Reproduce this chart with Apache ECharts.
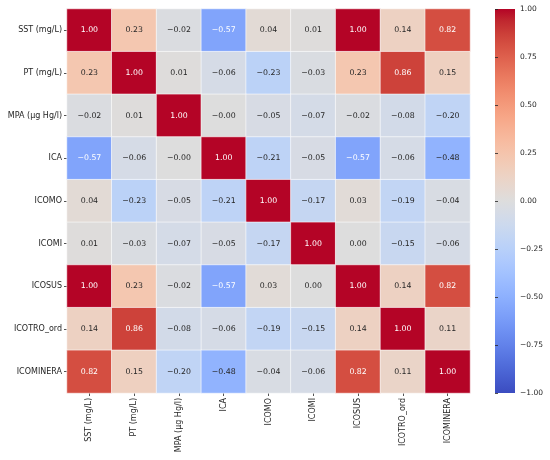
<!DOCTYPE html>
<html><head><meta charset="utf-8">
<script src="https://cdn.jsdelivr.net/npm/echarts@6/dist/echarts.min.js"></script>
<style>html,body{margin:0;padding:0;background:#fff}#c{width:550px;height:460px}</style>
</head><body><div id="c"></div>
<script>
const labels = ['SST (mg/L)','PT (mg/L)','MPA (µg Hg/l)','ICA','ICOMO','ICOMI','ICOSUS','ICOTRO_ord','ICOMINERA'];
const rowSST   = [1.00, 0.23, -0.02, -0.57, 0.04, 0.01, 1.00, 0.14, 0.82];
const rowPT    = [0.23, 1.00, 0.01, -0.06, -0.23, -0.03, 0.23, 0.86, 0.15];
const rowMPA   = [-0.02, 0.01, 1.00, -0.00, -0.05, -0.07, -0.02, -0.08, -0.20];
const rowICA   = [-0.57, -0.06, -0.00, 1.00, -0.21, -0.05, -0.57, -0.06, -0.48];
const rowICOMO = [0.04, -0.23, -0.05, -0.21, 1.00, -0.17, 0.03, -0.19, -0.04];
const rowICOMI = [0.01, -0.03, -0.07, -0.05, -0.17, 1.00, 0.00, -0.15, -0.06];
const rowICOSUS= [1.00, 0.23, -0.02, -0.57, 0.03, 0.00, 1.00, 0.14, 0.82];
const rowICOTRO= [0.14, 0.86, -0.08, -0.06, -0.19, -0.15, 0.14, 1.00, 0.11];
const rowICOMIN= [0.82, 0.15, -0.20, -0.48, -0.04, -0.06, 0.82, 0.11, 1.00];
const matrix = [rowSST,rowPT,rowMPA,rowICA,rowICOMO,rowICOMI,rowICOSUS,rowICOTRO,rowICOMIN];

const coolwarm = ['#3b4cc0','#445acc','#4d68d7','#5775e1','#6282ea','#6c8ef1','#779af7','#82a5fb','#8db0fe','#98b9ff','#a3c2ff','#aec9fd','#b8d0f9','#c2d5f4','#ccd9ee','#d5dbe6','#dddddd','#e5d8d1','#ecd3c5','#f1ccb8','#f5c4ac','#f7bba0','#f7b194','#f7a687','#f49a7b','#f18d6f','#ec7f63','#e57058','#de604d','#d55042','#cb3e38','#c0282f','#b40426'];

function fmt(v){
  const neg = v < 0 || Object.is(v, -0);
  return (neg ? '\u2212' : '') + Math.abs(v).toFixed(2);
}
const data = [];
matrix.forEach((row, r) => row.forEach((v, c) => {
  data.push({value:[c, r, v], label:{color: Math.abs(v) >= 0.5 ? '#ffffff' : '#262626'}});
}));

const gradStops = coolwarm.map((c, i) => ({offset: 1 - i / (coolwarm.length - 1), color: c}));

const font = 'DejaVu Sans';
const chart = echarts.init(document.getElementById('c'), null, {renderer:'canvas'});
chart.setOption({
  animation:false,
  backgroundColor:'#fff',
  grid:[
    {left:67, top:9, width:403, height:384},
    {left:495, top:9, width:20, height:384}
  ],
  xAxis:[
    {type:'category', data:labels, gridIndex:0,
     axisLine:{show:false}, splitLine:{show:false},
     axisTick:{show:true, alignWithLabel:true, length:3, lineStyle:{color:'#262626', width:0.8}},
     axisLabel:{rotate:90, fontFamily:font, fontSize:8, color:'#262626', margin:5}},
    {type:'value', gridIndex:1, show:false, min:0, max:1}
  ],
  yAxis:[
    {type:'category', data:labels, inverse:true, gridIndex:0,
     axisLine:{show:false}, splitLine:{show:false},
     axisTick:{show:true, alignWithLabel:true, length:3, lineStyle:{color:'#262626', width:0.8}},
     axisLabel:{fontFamily:font, fontSize:8, color:'#262626', margin:5}},
    {type:'value', gridIndex:1, position:'right', min:-1, max:1, interval:0.25,
     axisLine:{show:false}, splitLine:{show:false},
     axisTick:{show:true, length:3, lineStyle:{color:'#262626', width:0.8}},
     axisLabel:{fontFamily:font, fontSize:7.5, color:'#262626', margin:5, formatter:fmt}}
  ],
  visualMap:{
    type:'continuous', min:-1, max:1, seriesIndex:0, show:false,
    inRange:{color:coolwarm}
  },
  graphic:[{
    type:'rect', left:495, top:9, z:-1,
    shape:{width:20, height:384},
    style:{fill:new echarts.graphic.LinearGradient(0, 0, 0, 1, gradStops)}
  }],
  series:[{
    type:'heatmap', xAxisIndex:0, yAxisIndex:0, data:data,
    itemStyle:{borderColor:'#ffffff', borderWidth:0.6},
    label:{show:true, fontFamily:font, fontSize:7.8, formatter:p => fmt(p.value[2])}
  }]
});
</script></body></html>
